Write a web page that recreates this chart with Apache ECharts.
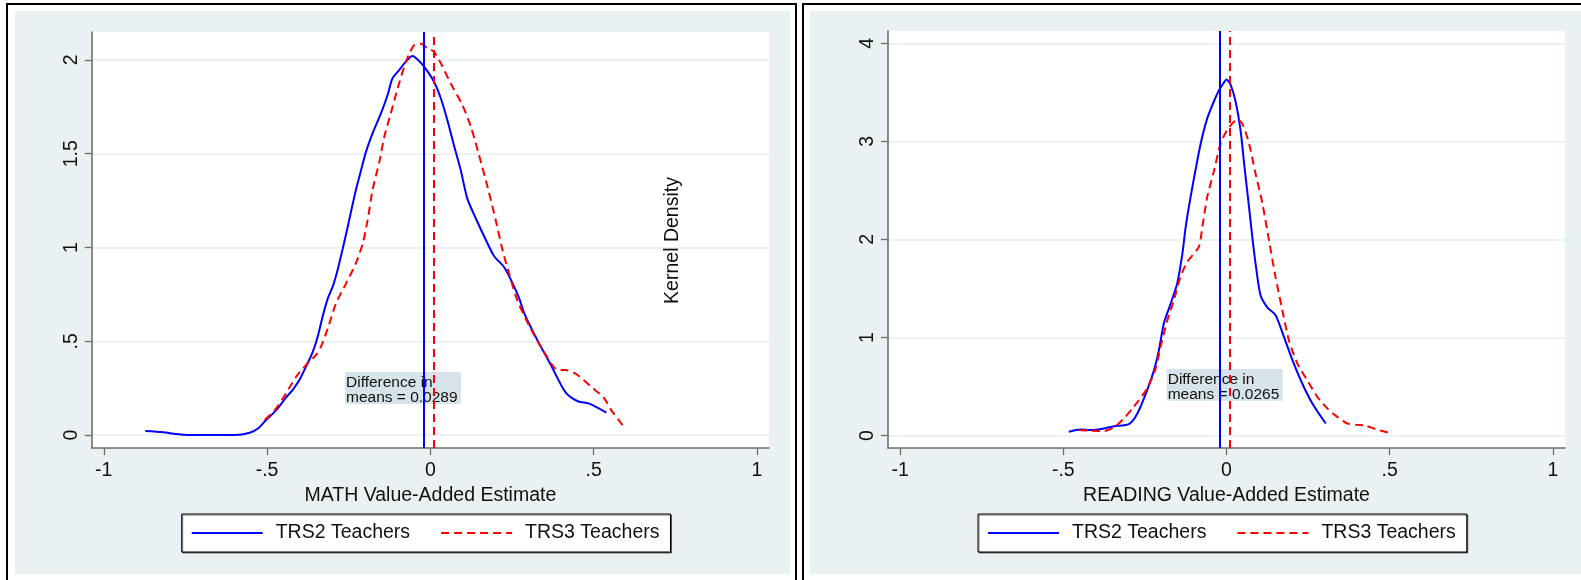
<!DOCTYPE html>
<html><head><meta charset="utf-8">
<script src="https://cdn.jsdelivr.net/npm/echarts@6/dist/echarts.min.js"></script>
<style>html,body{margin:0;padding:0;background:#fff}#c{width:1581px;height:580px}</style>
</head><body><div id="c"></div>
<script>
// ---------- data ----------
const seriesNames = ['TRS2 Teachers', 'TRS3 Teachers'];
const xTicks = [-1, -0.5, 0, 0.5, 1];
const mathYTicks = [0, 0.5, 1, 1.5, 2];
const readYTicks = [0, 1, 2, 3, 4];
const mathMeans = [-0.016, 0.0129];
const readMeans = [-0.0155, 0.011];
const mathNote = 'Difference in\nmeans = 0.0289';
const readNote = 'Difference in\nmeans = 0.0265';

const mathTRS2 = [[-0.873,0.021],[-0.818,0.015],[-0.78,0.006],[-0.740,0.0],[-0.60,0.0],[-0.553,0.012],[-0.527,0.036],[-0.503,0.08],[-0.472,0.133],[-0.442,0.2],[-0.422,0.24],[-0.401,0.293],[-0.381,0.364],[-0.360,0.444],[-0.345,0.524],[-0.330,0.631],[-0.314,0.729],[-0.299,0.791],[-0.284,0.880],[-0.268,0.996],[-0.253,1.111],[-0.243,1.191],[-0.228,1.307],[-0.212,1.413],[-0.197,1.511],[-0.177,1.609],[-0.151,1.716],[-0.131,1.813],[-0.116,1.902],[-0.095,1.947],[-0.075,1.991],[-0.055,2.021],[-0.040,2.004],[-0.019,1.964],[0.011,1.884],[0.032,1.796],[0.052,1.680],[0.072,1.547],[0.093,1.413],[0.113,1.262],[0.139,1.156],[0.170,1.040],[0.195,0.955],[0.226,0.895],[0.252,0.809],[0.272,0.729],[0.289,0.643],[0.328,0.505],[0.368,0.377],[0.414,0.228],[0.453,0.179],[0.485,0.169],[0.539,0.120]];
const mathTRS3 = [[-0.507,0.08],[-0.472,0.142],[-0.442,0.222],[-0.411,0.311],[-0.381,0.373],[-0.350,0.427],[-0.335,0.471],[-0.314,0.569],[-0.289,0.702],[-0.258,0.809],[-0.228,0.916],[-0.207,1.022],[-0.192,1.147],[-0.177,1.307],[-0.156,1.458],[-0.141,1.591],[-0.121,1.716],[-0.100,1.849],[-0.080,1.964],[-0.064,2.036],[-0.049,2.080],[-0.029,2.086],[-0.008,2.062],[0.011,2.044],[0.032,1.982],[0.062,1.876],[0.098,1.760],[0.124,1.644],[0.149,1.493],[0.175,1.324],[0.200,1.147],[0.221,0.987],[0.241,0.862],[0.266,0.720],[0.305,0.575],[0.344,0.455],[0.391,0.347],[0.414,0.347],[0.445,0.327],[0.492,0.258],[0.531,0.199],[0.555,0.130],[0.594,0.041]];
const readTRS2 = [[-0.483,0.038],[-0.447,0.062],[-0.416,0.055],[-0.375,0.072],[-0.345,0.095],[-0.299,0.116],[-0.273,0.224],[-0.243,0.462],[-0.222,0.667],[-0.207,0.871],[-0.192,1.143],[-0.171,1.347],[-0.151,1.551],[-0.135,1.857],[-0.125,2.129],[-0.110,2.435],[-0.095,2.707],[-0.079,2.980],[-0.059,3.235],[-0.039,3.405],[-0.023,3.524],[-0.013,3.575],[0.000,3.633],[0.013,3.575],[0.028,3.405],[0.043,3.116],[0.055,2.742],[0.069,2.333],[0.079,2.027],[0.089,1.755],[0.104,1.432],[0.125,1.306],[0.150,1.228],[0.176,1.006],[0.202,0.768],[0.232,0.530],[0.263,0.326],[0.304,0.122]];
const readTRS3 = [[-0.452,0.055],[-0.416,0.048],[-0.375,0.045],[-0.345,0.082],[-0.314,0.174],[-0.284,0.293],[-0.243,0.480],[-0.217,0.684],[-0.202,0.905],[-0.181,1.177],[-0.161,1.381],[-0.141,1.619],[-0.120,1.772],[-0.085,1.925],[-0.074,2.129],[-0.059,2.435],[-0.039,2.690],[-0.018,2.980],[0.002,3.116],[0.018,3.184],[0.033,3.225],[0.048,3.184],[0.069,2.980],[0.089,2.673],[0.110,2.367],[0.130,1.993],[0.150,1.619],[0.171,1.279],[0.191,0.973],[0.217,0.735],[0.247,0.565],[0.278,0.395],[0.309,0.276],[0.339,0.190],[0.370,0.122],[0.401,0.108],[0.426,0.100],[0.457,0.064],[0.500,0.026]];

// ---------- style ----------
const FONT = 'Liberation Sans, Arial, sans-serif';
const FS = 19.5;
const TXT = '#111';
const AX = '#6e6e6e';
const BG = '#EAF1F3';
const GRIDC = '#E4EDF0';
const BLUE = '#0000ff';
const RED = '#ff0000';
const DASH = [8, 5];

function fmt(v) { return String(v).replace(/^(-?)0\./, '$1.'); }

function xAxisOpt(idx, name) {
  return {
    type: 'value', gridIndex: idx, min: -1.037, max: 1.037,
    name: name, nameLocation: 'middle', nameGap: 32,
    nameTextStyle: { fontFamily: FONT, fontSize: FS, color: TXT },
    axisLine: { show: true, onZero: false, lineStyle: { color: AX, width: 1.6 } },
    axisTick: { show: true, customValues: xTicks, length: 7, lineStyle: { color: AX, width: 1.3 } },
    axisLabel: { customValues: xTicks, formatter: fmt, fontFamily: FONT, fontSize: FS, color: TXT, margin: 13 },
    splitLine: { show: false }
  };
}
function yAxisOpt(idx, min, max, ticks) {
  return {
    type: 'value', gridIndex: idx, min: min, max: max,
    axisLine: { show: true, onZero: false, lineStyle: { color: AX, width: 1.6 } },
    axisTick: { show: true, customValues: ticks, length: 7, lineStyle: { color: AX, width: 1.3 } },
    axisLabel: { customValues: ticks, formatter: fmt, rotate: 90, fontFamily: FONT, fontSize: FS, color: TXT, margin: 10 },
    splitLine: { show: true, customValues: ticks, lineStyle: { color: GRIDC, width: 1.6 } }
  };
}
function curve(name, xi, data, color, dashed, mean) {
  return {
    type: 'line', name: name, xAxisIndex: xi, yAxisIndex: xi, data: data,
    symbol: 'none', showSymbol: false, smooth: 0.25, z: 3,
    lineStyle: { color: color, width: 2, type: dashed ? DASH : 'solid' },
    itemStyle: { color: color },
    markLine: {
      silent: true, symbol: 'none', animation: false, label: { show: false },
      lineStyle: { color: color, width: 2, type: dashed ? DASH : 'solid' },
      data: [{ xAxis: mean }]
    }
  };
}
function legendOpt(left) {
  return {
    data: seriesNames, left: left, top: 514, orient: 'horizontal',
    itemWidth: 71, itemHeight: 14, itemGap: 30,
    padding: [9, 11, 9, 9],
    itemStyle: { opacity: 0, borderWidth: 0 },
    backgroundColor: '#fff', borderColor: '#000', borderWidth: 1,
    shadowColor: 'rgba(0,0,0,0.55)', shadowOffsetX: 1, shadowOffsetY: 1, shadowBlur: 0,
    textStyle: { fontFamily: FONT, fontSize: FS, color: TXT, padding: [0, 0, 0, 8] },
    selectedMode: false
  };
}
function note(x, y, w, h, text) {
  return {
    type: 'group', z: 50, children: [
      { type: 'rect', shape: { x: x, y: y, width: w, height: h }, style: { fill: '#D6E3E9' } },
      { type: 'text', x: x + 1, y: y + 2.5, style: { text: text, font: '15.5px ' + FONT, fill: TXT, lineHeight: 15.5, align: 'left', verticalAlign: 'top' } }
    ]
  };
}

const chart = echarts.init(document.getElementById('c'), null, { renderer: 'canvas' });
chart.setOption({
  animation: false,
  backgroundColor: '#fff',
  grid: [
    { left: 91.7, top: 32, width: 677.3, height: 416, show: true, backgroundColor: '#fff', borderWidth: 0 },
    { left: 888, top: 31, width: 677, height: 417, show: true, backgroundColor: '#fff', borderWidth: 0 }
  ],
  xAxis: [xAxisOpt(0, 'MATH Value-Added Estimate'), xAxisOpt(1, 'READING Value-Added Estimate')],
  yAxis: [yAxisOpt(0, -0.069, 2.149, mathYTicks), yAxisOpt(1, -0.128, 4.127, readYTicks)],
  legend: [legendOpt(181.7), legendOpt(978)],
  series: [
    curve(seriesNames[0], 0, mathTRS2, BLUE, false, mathMeans[0]),
    curve(seriesNames[1], 0, mathTRS3, RED, true, mathMeans[1]),
    curve(seriesNames[0], 1, readTRS2, BLUE, false, readMeans[0]),
    curve(seriesNames[1], 1, readTRS3, RED, true, readMeans[1])
  ],
  graphic: [
    { type: 'rect', z: -10, shape: { x: 15, y: 11, width: 775, height: 563 }, style: { fill: BG } },
    { type: 'rect', z: -10, shape: { x: 810, y: 11, width: 771, height: 563 }, style: { fill: BG } },
    { type: 'rect', z: -9, shape: { x: 7, y: 4, width: 789, height: 600 }, style: { fill: null, stroke: '#000', lineWidth: 2 } },
    { type: 'rect', z: -9, shape: { x: 803, y: 4, width: 800, height: 600 }, style: { fill: null, stroke: '#000', lineWidth: 2 } },
    { type: 'text', z: 50, x: 672.5, y: 240.5, rotation: Math.PI / 2,
      style: { text: 'Kernel Density', font: FS + 'px ' + FONT, fill: TXT, align: 'center', verticalAlign: 'middle' } },
    note(345, 372, 116, 32, mathNote),
    note(1166.7, 369, 116, 31.7, readNote)
  ]
});
</script></body></html>
